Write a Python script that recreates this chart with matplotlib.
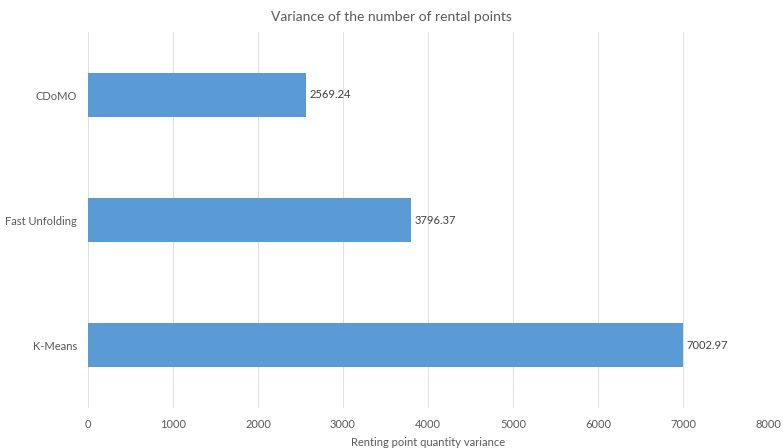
import matplotlib
matplotlib.use("Agg")
import matplotlib.pyplot as plt

categories = ["K-Means", "Fast Unfolding", "CDoMO"]
values = [7002.97, 3796.37, 2569.24]
xticks = [0, 1000, 2000, 3000, 4000, 5000, 6000, 7000, 8000]

plt.rcParams['font.family'] = ['Lato', 'DejaVu Sans']

fig = plt.figure(figsize=(7.83, 4.48), dpi=100)
ax = fig.add_axes([88/783, 40.5/448, 680/783, 375/448])

bars = ax.barh(range(len(categories)), values, height=0.355, color="#5B9BD5", zorder=3)
for i, v in enumerate(values):
    ax.text(v + 40, i, f"{v:.2f}", va="center", ha="left", fontsize=8, color="#404040")

ax.set_xlim(0, 8000)
ax.set_ylim(-0.5, len(categories) - 0.5)
ax.set_xticks(xticks)
ax.set_xticklabels([str(t) for t in xticks])
ax.set_yticks(range(len(categories)))
ax.set_yticklabels(categories)
ax.tick_params(axis="both", length=0, labelsize=8, colors="#595959")
ax.tick_params(axis="x", pad=8)
ax.tick_params(axis="y", pad=8)
ax.grid(axis="x", color="#E0E0E0", linewidth=0.8, zorder=0)
for s in ax.spines.values():
    s.set_visible(False)

ax.set_xlabel("Renting point quantity variance", fontsize=8, color="#595959", labelpad=5)
fig.text(0.5, 1 - 17/448, "Variance of the number of rental points", ha="center", va="center",
         fontsize=10, color="#595959")

fig.savefig("out.png", dpi=100)
